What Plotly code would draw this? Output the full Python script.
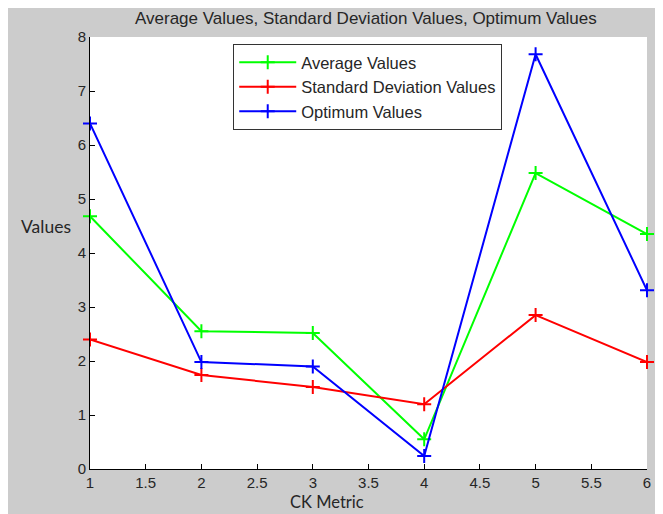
import plotly.graph_objects as go

ck_metric = [1, 2, 3, 4, 5, 6]
average_values = [4.68, 2.55, 2.52, 0.55, 5.48, 4.35]
std_values = [2.40, 1.74, 1.52, 1.20, 2.85, 1.98]
optimum_values = [6.40, 1.98, 1.90, 0.24, 7.68, 3.31]

series = [
    ("Average Values", average_values, "#00ff00"),
    ("Standard Deviation Values", std_values, "#ff0000"),
    ("Optimum Values", optimum_values, "#0000ff"),
]

fig = go.Figure()
for name, vals, color in series:
    fig.add_trace(go.Scatter(
        x=ck_metric, y=vals, name=name, mode="lines+markers",
        line=dict(color=color, width=2),
        marker=dict(symbol="cross-thin", size=10, color=color,
                    line=dict(color=color, width=2)),
        cliponaxis=False,
    ))

# page has an 8px body margin; work in page pixels and convert
OFF = 8
W, H = 663 - OFF, 514 - OFF
L, R, T, B = 90, 650, 37, 469          # plot box in page pixels
ml, mr, mt, mb = L - OFF, 663 - R, T - OFF, 514 - B
pw, ph = R - L, B - T

def px(x):
    return (x - L) / pw

def py(y):
    return (B - y) / ph

gray = "#cccccc"
txt = "#262626"

fig.update_layout(
    width=W, height=H,
    margin=dict(l=ml, r=mr, t=mt, b=mb, pad=0),
    paper_bgcolor=gray, plot_bgcolor="white",
    showlegend=True,
    legend=dict(x=px(234), y=py(44), xanchor="left", yanchor="top",
                bgcolor="white", bordercolor="#333333", borderwidth=1,
                font=dict(family="Liberation Sans, Arial", size=16.5, color=txt),
                itemwidth=57, tracegroupgap=0),
    font=dict(family="Liberation Sans, Arial", size=13, color=txt),
    xaxis=dict(range=[1, 6], tickmode="linear", tick0=1, dtick=0.5,
               ticks="inside", ticklen=5, tickcolor="black",
               showline=True, linecolor="black", linewidth=1,
               showgrid=False, zeroline=False, mirror=False,
               tickfont=dict(size=15, color=txt)),
    yaxis=dict(range=[0, 8], tickmode="linear", tick0=0, dtick=1,
               ticks="inside", ticklen=5, tickcolor="black",
               showline=True, linecolor="black", linewidth=1,
               showgrid=False, zeroline=False, mirror=False,
               tickfont=dict(size=15, color=txt)),
    annotations=[
        dict(text="Average Values, Standard Deviation Values, Optimum Values",
             xref="paper", yref="paper", x=px(367), y=py(18),
             xanchor="center", yanchor="middle", showarrow=False,
             font=dict(family="Liberation Sans, Arial", size=17, color=txt)),
        dict(text="Values", xref="paper", yref="paper", x=px(46), y=py(227),
             xanchor="center", yanchor="middle", showarrow=False,
             font=dict(family="Lato, Open Sans", size=17.5, color=txt)),
        dict(text="CK Metric", xref="paper", yref="paper", x=px(328), y=py(502),
             xanchor="center", yanchor="middle", showarrow=False,
             font=dict(family="Lato, Open Sans", size=16.5, color=txt)),
    ],
)

fig.write_html("out.html")
